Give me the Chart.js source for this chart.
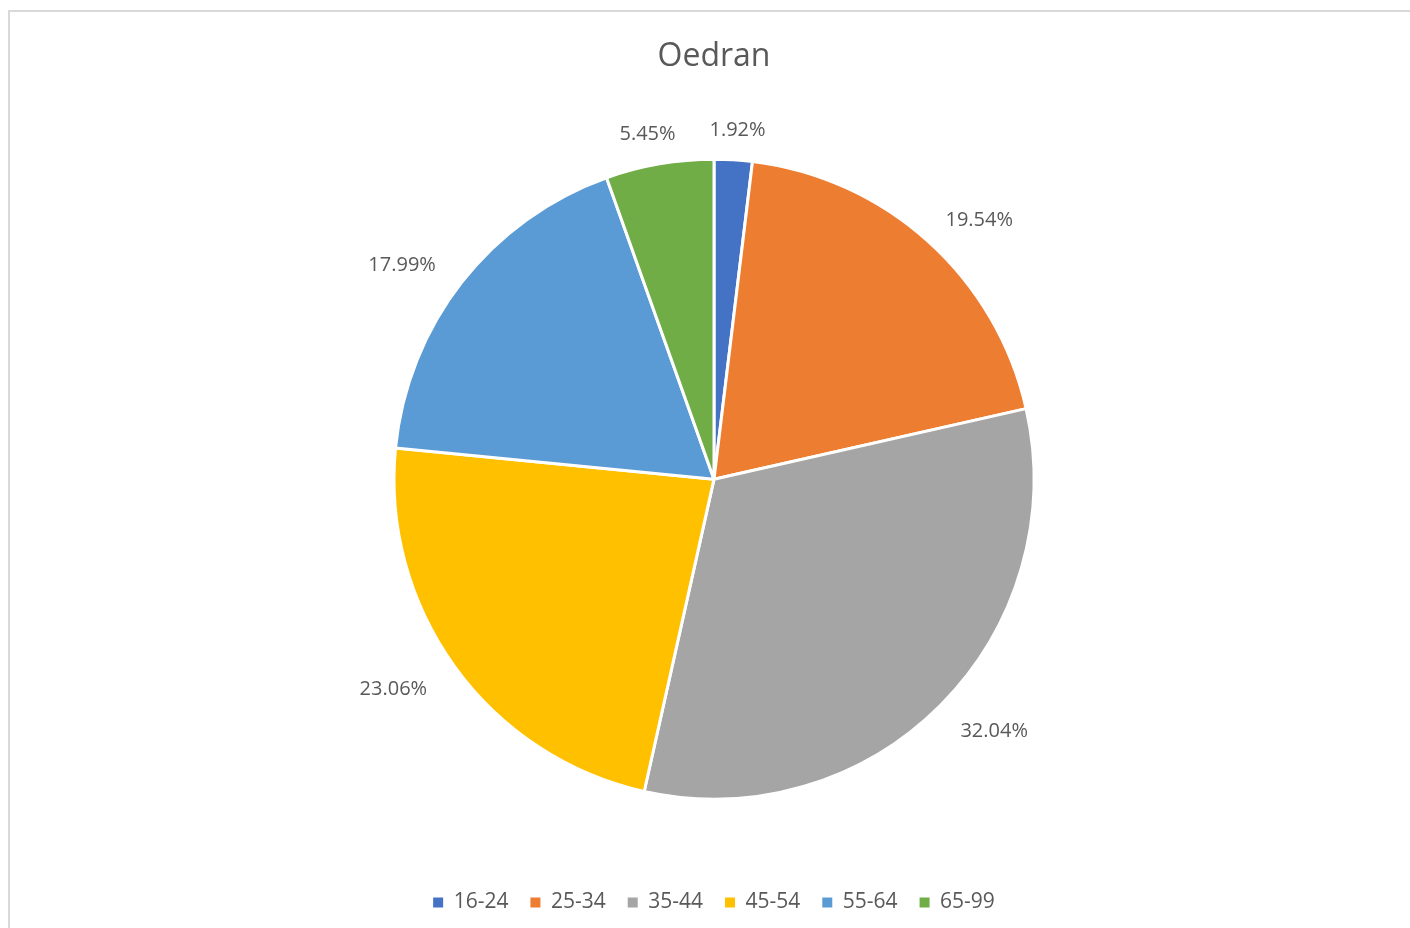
<!DOCTYPE html>
<html>
<head>
<meta charset="utf-8">
<script src="https://cdn.jsdelivr.net/npm/chart.js@4.4.0/dist/chart.umd.min.js"></script>
<style>
  html, body { margin: 0; padding: 0; background: #fff; overflow: hidden; }
  .frame {
    position: absolute; left: 8px; top: 10px;
    width: 1420px; height: 940px;
    border: 2px solid #d9d9d9; box-sizing: border-box;
  }
  .chart-box { position: absolute; left: 10px; top: 12px; width: 1408px; height: 916px; }
</style>
</head>
<body>
<div class="frame"></div>
<div class="chart-box"><canvas id="pie"></canvas></div>
<script>
// age groups and their share (%)
const ageGroups = ['16-24', '25-34', '35-44', '45-54', '55-64', '65-99'];
const shares = [1.92, 19.54, 32.04, 23.06, 17.99, 5.45];
const sliceColors = ['#4472C4', '#ED7D31', '#A5A5A5', '#FFC000', '#5B9BD5', '#70AD47'];

const FONT = "'Open Sans', 'Liberation Sans', sans-serif";
const TEXT = '#595959';

// percentage labels outside each slice
const outsideLabels = {
  id: 'outsideLabels',
  afterDatasetsDraw(chart) {
    const ctx = chart.ctx;
    const meta = chart.getDatasetMeta(0);
    ctx.save();
    ctx.font = '20px ' + FONT;
    ctx.fillStyle = TEXT;
    ctx.textAlign = 'center';
    ctx.textBaseline = 'middle';
    meta.data.forEach((arc, i) => {
      const mid = (arc.startAngle + arc.endAngle) / 2;
      const dx = Math.cos(mid), dy = Math.sin(mid);
      const text = shares[i].toFixed(2) + '%';
      const w = ctx.measureText(text).width;
      const x = arc.x + dx * (arc.outerRadius + 20 + w / 2 + 22);
      const y = arc.y + dy * (arc.outerRadius + 33) + 3;
      ctx.fillText(text, x, y);
    });
    ctx.restore();
  }
};

new Chart(document.getElementById('pie'), {
  type: 'pie',
  data: {
    labels: ageGroups,
    datasets: [{
      data: shares,
      backgroundColor: sliceColors,
      borderColor: '#ffffff',
      borderWidth: 3,
      radius: 320
    }]
  },
  options: {
    responsive: true,
    maintainAspectRatio: false,
    animation: false,
    layout: { padding: { top: 0, bottom: 5 } },
    plugins: {
      title: {
        display: true,
        text: 'Oedran',
        color: TEXT,
        font: { family: FONT, size: 32, weight: 'normal' },
        padding: { top: 26, bottom: 12 }
      },
      legend: {
        position: 'bottom',
        labels: {
          color: TEXT,
          font: { family: FONT, size: 21 },
          boxWidth: 10,
          boxHeight: 10,
          padding: 22,
          // solid squares, no white slice border around them
          generateLabels(chart) {
            return Chart.overrides.pie.plugins.legend.labels.generateLabels(chart)
              .map(item => Object.assign(item, { lineWidth: 0, strokeStyle: item.fillStyle }));
          }
        }
      },
      tooltip: { enabled: false }
    }
  },
  plugins: [outsideLabels]
});
</script>
</body>
</html>
